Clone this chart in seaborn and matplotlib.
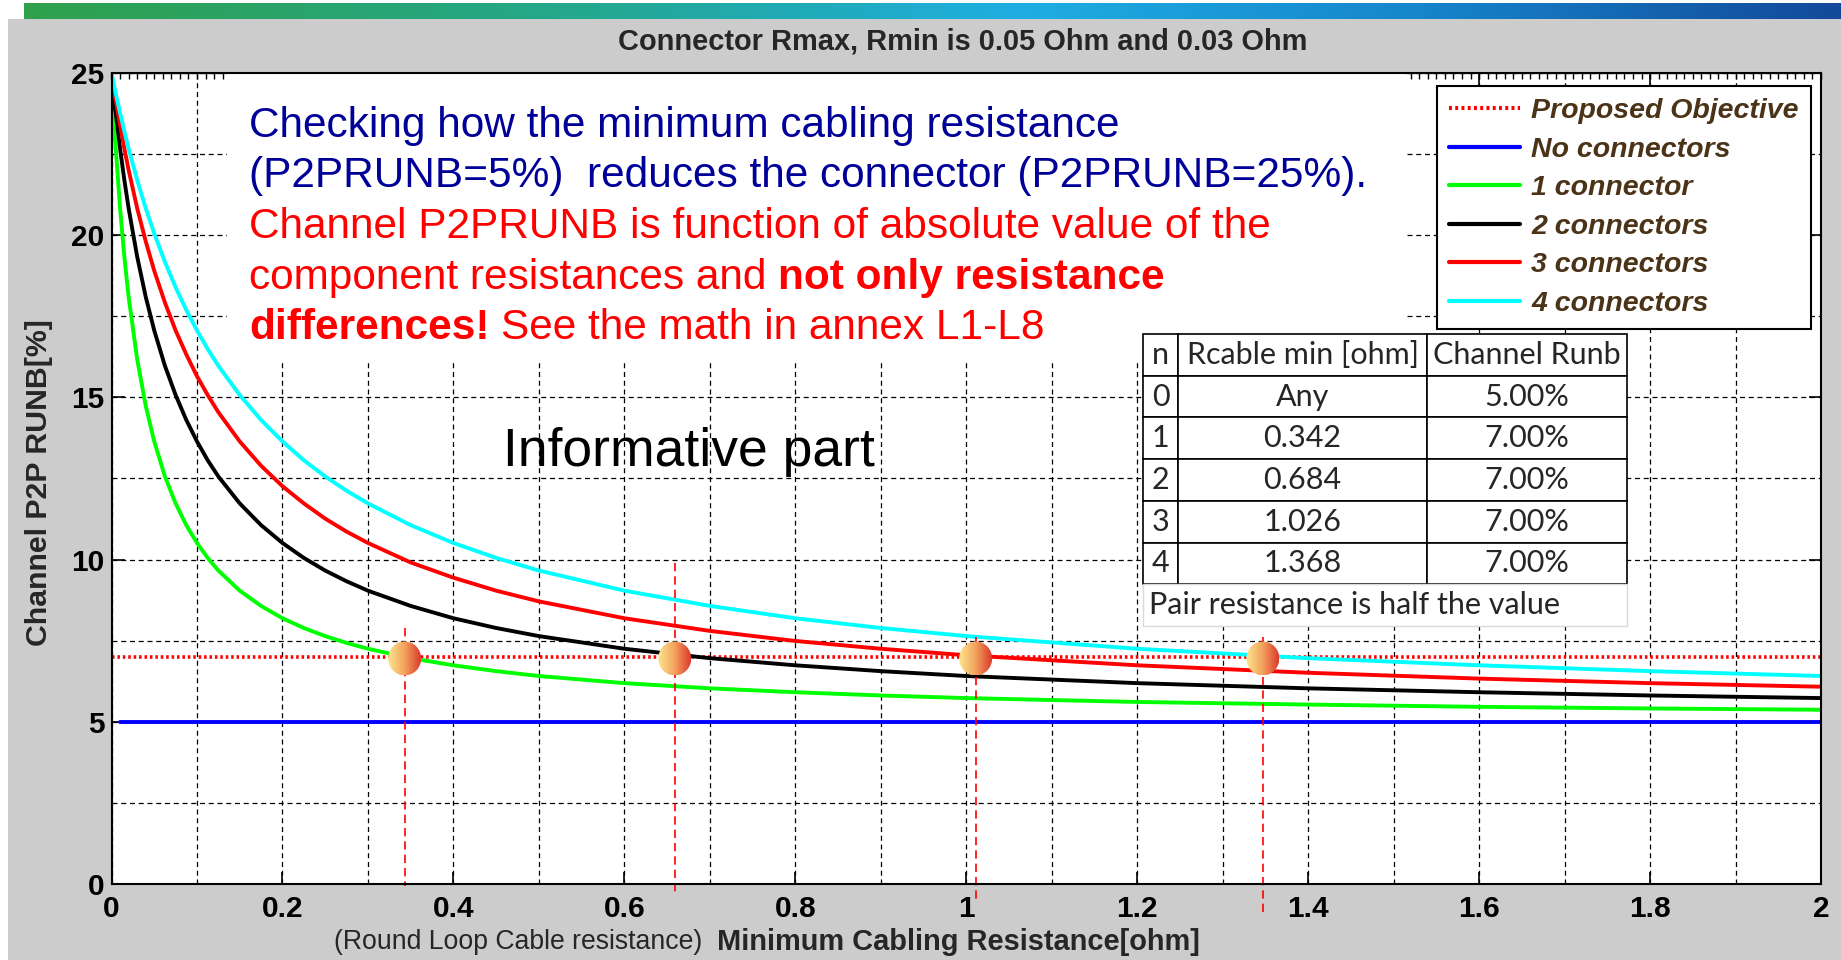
import numpy as np
import pandas as pd
import matplotlib
matplotlib.use("Agg")
import matplotlib.pyplot as plt
import seaborn as sns
from matplotlib.patches import Rectangle, Ellipse
from matplotlib.colors import LinearSegmentedColormap
from matplotlib.ticker import MultipleLocator

# -----------------------------
# DATA
# -----------------------------
r_cable = [0, 0.005, 0.01, 0.015, 0.02, 0.03, 0.04, 0.05, 0.0625, 0.075, 0.0875, 0.1, 0.1125,
           0.125, 0.15, 0.175, 0.2, 0.225, 0.25, 0.275, 0.3, 0.35, 0.4, 0.45, 0.5, 0.6,
           0.7, 0.8, 0.9, 1.0, 1.2, 1.4, 1.6, 1.8, 2.0]
one_conn = [24.1, 22.67, 20.83, 19.34, 18.10, 16.18, 14.74, 13.64, 12.56, 11.73, 11.06, 10.51,
            10.05, 9.66, 9.04, 8.57, 8.19, 7.89, 7.64, 7.43, 7.25, 6.96, 6.74, 6.56, 6.41,
            6.19, 6.03, 5.91, 5.81, 5.73, 5.61, 5.53, 5.46, 5.41, 5.37]
two_conn = [24.4, 23.77, 22.67, 21.70, 20.83, 19.34, 18.10, 17.06, 15.97, 15.07, 14.30, 13.64,
            13.06, 12.56, 11.73, 11.06, 10.51, 10.05, 9.66, 9.33, 9.04, 8.57, 8.19, 7.89,
            7.64, 7.25, 6.96, 6.74, 6.56, 6.41, 6.19, 6.03, 5.91, 5.81, 5.73]
three_conn = [24.6, 24.16, 23.39, 22.67, 22.01, 20.83, 19.81, 18.90, 17.92, 17.06, 16.32,
              15.65, 15.07, 14.54, 13.64, 12.89, 12.26, 11.73, 11.26, 10.86, 10.51, 9.91,
              9.44, 9.04, 8.71, 8.19, 7.80, 7.49, 7.25, 7.05, 6.74, 6.51, 6.33, 6.19, 6.08]
four_conn = [25.0, 24.36, 23.77, 23.20, 22.67, 21.70, 20.83, 20.05, 19.17, 18.39, 17.69, 17.06,
             16.49, 15.97, 15.07, 14.30, 13.64, 13.06, 12.56, 12.12, 11.73, 11.06, 10.51,
             10.05, 9.66, 9.04, 8.57, 8.19, 7.89, 7.64, 7.25, 6.96, 6.74, 6.56, 6.41]
no_conn_x = [0.01, 0.5, 1.0, 1.5, 2.0]
no_conn = [5.0, 5.0, 5.0, 5.0, 5.0]
objective_x = [0, 2]
objective = [7.0, 7.0]

series_names = ["1 connector", "2 connectors", "3 connectors", "4 connectors"]
series_colors = ["#00ff00", "black", "red", "cyan"]

marker_x = [0.343, 0.659, 1.011, 1.347]
marker_y = [6.95, 6.95, 6.95, 6.95]
guide_top = [7.9, 9.9, 7.6, 7.6]
guide_bottom = [-0.05, -0.3, -0.5, -0.9]

x_ticks = [0, 0.2, 0.4, 0.6, 0.8, 1.0, 1.2, 1.4, 1.6, 1.8, 2.0]
x_tick_labels = ["0", "0.2", "0.4", "0.6", "0.8", "1", "1.2", "1.4", "1.6", "1.8", "2"]
y_ticks = [0, 5, 10, 15, 20, 25]
y_tick_labels = ["0", "5", "10", "15", "20", "25"]

table_rows = [["n", "Rcable min [ohm]", "Channel Runb"],
              ["0", "Any", "5.00%"],
              ["1", "0.342", "7.00%"],
              ["2", "0.684", "7.00%"],
              ["3", "1.026", "7.00%"],
              ["4", "1.368", "7.00%"]]

# -----------------------------
# FIGURE
# -----------------------------
sns.set_style("white")
plt.rcParams["font.family"] = ["Liberation Sans", "DejaVu Sans"]

W, H = 1841, 960
fig = plt.figure(figsize=(W / 100, H / 100), dpi=100, facecolor="white")


def fx(px):
    return px / W


def fy(py):
    return 1 - py / H


# grey slide panel + gradient bar on top
fig.patches.append(Rectangle((fx(8), 0), 1 - fx(8), fy(19), transform=fig.transFigure,
                             facecolor="#cccccc", edgecolor="none", zorder=-10))
bar_cmap = LinearSegmentedColormap.from_list(
    "bar", [(0, "#2fa04c"), (0.3, "#24a88c"), (0.55, "#1eaee3"), (0.78, "#1683c9"), (1, "#13499a")])
bar_ax = fig.add_axes([fx(24), fy(19), 1 - fx(24), 16 / H])
bar_ax.imshow(np.linspace(0, 1, 512)[None, :], aspect="auto", cmap=bar_cmap)
bar_ax.axis("off")

ax = fig.add_axes([fx(111.5), fy(884), (1821 - 111.5) / W, (884 - 72.8) / H])
ax.set_facecolor("white")

# white box behind the annotation text hides the grid there
ax.add_patch(Rectangle((0.135, 16.06), 1.513 - 0.135, 25 - 16.06, facecolor="white",
                       edgecolor="none", zorder=1.5))

# curves
sns.lineplot(x=objective_x, y=objective, color="red", lw=2.6, ls=(0, (0.7, 0.8)),
             label="Proposed Objective", ax=ax, zorder=3)
sns.lineplot(x=no_conn_x, y=no_conn, color="#0000ff", lw=2.8, label="No connectors", ax=ax,
             zorder=3)
for name, ys, col in zip(series_names, [one_conn, two_conn, three_conn, four_conn], series_colors):
    sns.lineplot(x=r_cable, y=ys, color=col, lw=2.8, label=name, ax=ax, zorder=3)

# red guide lines and gradient markers
for mx, top, bot in zip(marker_x, guide_top, guide_bottom):
    ax.plot([mx, mx], [top, bot], color="red", lw=1.2, ls=(0, (5, 3)), clip_on=False, zorder=4)

dot_cmap = LinearSegmentedColormap.from_list("dot", ["#fce58e", "#f3a35e", "#dc3a2c"])
grad = np.linspace(0, 1, 64)[None, :]
w_dot, h_dot = 33 / 854.75, 34 / 32.45
for mx, my in zip(marker_x, marker_y):
    ell = Ellipse((mx, my), w_dot, h_dot, facecolor="none", edgecolor="none")
    ax.add_patch(ell)
    im = ax.imshow(grad, cmap=dot_cmap, aspect="auto", zorder=6,
                   extent=[mx - w_dot / 2, mx + w_dot / 2, my - h_dot / 2, my + h_dot / 2])
    im.set_clip_path(ell)

ax.set_xlim(0, 2)
ax.set_ylim(0, 25)

# grid / ticks / spines
ax.set_xticks(x_ticks)
ax.set_xticklabels(x_tick_labels, fontweight="bold", fontsize=21.5)
ax.set_yticks(y_ticks)
ax.set_yticklabels(y_tick_labels, fontweight="bold", fontsize=21.5)
ax.set_xticks(np.arange(0.1, 2, 0.2), minor=True)
ax.set_yticks(np.arange(2.5, 25, 5), minor=True)
ax.set_axisbelow(True)
ax.grid(True, which="both", color="black", lw=0.9, ls=(0, (4, 3)), zorder=1)
ax.tick_params(which="major", direction="in", length=9, width=1.2, top=True, right=True,
               bottom=True, left=True, colors="black")
ax.tick_params(which="minor", length=0)
ax.tick_params(axis="x", pad=8)
ax.tick_params(axis="y", pad=5)
for sp in ax.spines.values():
    sp.set_color("black")
    sp.set_linewidth(1.5)
    sp.set_zorder(10)

sec = ax.secondary_xaxis("top")
sec.set_xticks([])
sec.xaxis.set_minor_locator(MultipleLocator(0.01))
sec.tick_params(which="minor", direction="in", length=4, width=1, color="black")

ax.set_xlabel("")
ax.set_ylabel("")

# legend
leg = ax.legend(loc="upper right", bbox_to_anchor=(0.994, 0.9837), borderaxespad=0,
                frameon=True, fancybox=False, framealpha=1, edgecolor="black",
                prop=dict(family="Liberation Sans", weight="bold", style="italic", size=20.5),
                labelcolor="#4b3318", handlelength=2.5, handletextpad=0.4,
                labelspacing=0.44, borderpad=0.42)
leg.get_frame().set_linewidth(1.5)
leg.set_zorder(20)
for h in leg.get_lines():
    h.set_linewidth(3)

# table
tab = ax.table(cellText=table_rows, cellLoc="center",
               colWidths=[0.0723, 0.5132, 0.4145],
               bbox=[0.6036, 0.3695, 0.2831, 0.678 - 0.3695])
tab.auto_set_font_size(False)
for cell in tab.get_celld().values():
    cell.set_edgecolor("black")
    cell.set_linewidth(1.2)
    cell.set_facecolor("white")
    cell.get_text().set_fontsize(22)
    cell.get_text().set_fontfamily(["Lato", "DejaVu Sans"])
tab.set_zorder(15)
ax.add_patch(Rectangle((0.6036, 0.318), 0.2831, 0.3695 - 0.318, transform=ax.transAxes,
                       facecolor="white", edgecolor="#d9d9d9", lw=1, zorder=15))
ax.text(0.6071, 0.344, "Pair resistance is half the value", transform=ax.transAxes,
        ha="left", va="center", fontsize=22, family=["Lato", "DejaVu Sans"], zorder=16)

# titles and labels
fig.text(fx(963), fy(42), "Connector Rmax, Rmin is 0.05 Ohm and 0.03 Ohm",
         ha="center", va="center", fontsize=20.9, fontweight="bold")
fig.text(fx(39), fy(483), "Channel P2P RUNB[%]", rotation=90, ha="center", va="center",
         fontsize=21.8, fontweight="bold")
fig.text(fx(958), fy(942), "Minimum Cabling Resistance[ohm]", ha="center", va="center",
         fontsize=20.9, fontweight="bold")
fig.text(fx(518), fy(942), "(Round Loop Cable resistance)", ha="center", va="center",
         fontsize=19.2)

# annotation text block
navy = "#000099"
fs = 30.5
fig.text(fx(249), fy(137), "Checking how the minimum cabling resistance", color=navy,
         fontsize=fs, va="baseline")
fig.text(fx(249), fy(187.5), "(P2PRUNB=5%)  reduces the connector (P2PRUNB=25%).", color=navy,
         fontsize=fs, va="baseline")
fig.text(fx(249), fy(238), "Channel P2PRUNB is function of absolute value of the", color="red",
         fontsize=fs, va="baseline")
renderer = fig.canvas.get_renderer()
space_px = 0.278 * fs * 100 / 72
t4 = fig.text(fx(249), fy(288.5), "component resistances and", color="red", fontsize=fs,
              va="baseline")
bb = t4.get_window_extent(renderer)
fig.text(fx(bb.x1 + space_px), fy(288.5), "not only resistance", color="red", fontsize=fs,
         fontweight="bold", va="baseline")
t5 = fig.text(fx(249), fy(339), "differences!", color="red", fontsize=fs, fontweight="bold",
              va="baseline")
bb = t5.get_window_extent(renderer)
fig.text(fx(bb.x1 + space_px), fy(339), "See the math in annex L1-L8", color="red",
         fontsize=fs, va="baseline")

fig.text(fx(503), fy(466), "Informative part", color="black", fontsize=38.5, va="baseline")

fig.savefig("out.png", dpi=100, facecolor=fig.get_facecolor())
